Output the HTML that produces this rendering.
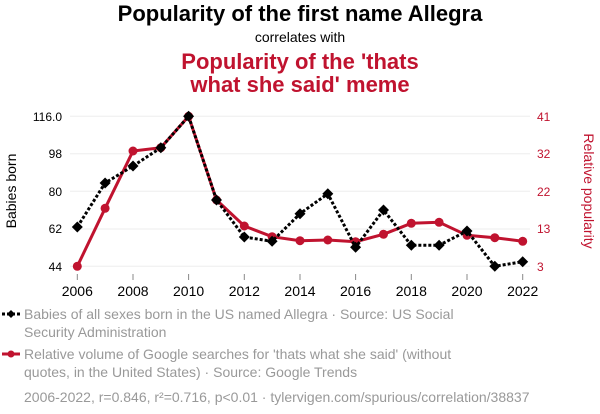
<!DOCTYPE html>
<html><head><meta charset="utf-8"><style>
html,body{margin:0;padding:0;background:#fff;}
svg{display:block;font-family:"Liberation Sans",sans-serif;}
</style></head><body>
<svg width="600" height="414" viewBox="0 0 600 414">
<text x="300" y="21" text-anchor="middle" font-size="22" font-weight="bold" fill="#000">Popularity of the first name Allegra</text>
<text x="300" y="42" text-anchor="middle" font-size="14" fill="#000">correlates with</text>
<text x="300" y="69" text-anchor="middle" font-size="22" font-weight="bold" fill="#c0132f">Popularity of the 'thats</text>
<text x="300" y="92" text-anchor="middle" font-size="22" font-weight="bold" fill="#c0132f">what she said' meme</text>
<g stroke="#eee" stroke-width="1">
<line x1="70" x2="530" y1="116.3" y2="116.3"/><line x1="70" x2="530" y1="153.7" y2="153.7"/>
<line x1="70" x2="530" y1="191.3" y2="191.3"/><line x1="70" x2="530" y1="229" y2="229"/>
<line x1="70" x2="530" y1="266.3" y2="266.3"/>
</g>
<g font-size="12" fill="#000" text-anchor="end">
<text x="62" y="121">116.0</text><text x="62" y="158">98</text><text x="62" y="196">80</text><text x="62" y="233">62</text><text x="62" y="271">44</text>
</g>
<g font-size="12" fill="#c0132f" text-anchor="start">
<text x="537" y="121">41</text><text x="537" y="158">32</text><text x="537" y="196">22</text><text x="537" y="233">13</text><text x="537" y="271">3</text>
</g>
<text transform="translate(16,191) rotate(-90)" text-anchor="middle" font-size="14" fill="#000">Babies born</text>
<text transform="translate(584,191) rotate(90)" text-anchor="middle" font-size="14" fill="#c0132f">Relative popularity</text>
<g stroke="#888" stroke-width="1">
<line x1="77.3" x2="77.3" y1="274" y2="280"/><line x1="133" x2="133" y1="274" y2="280"/><line x1="188.6" x2="188.6" y1="274" y2="280"/><line x1="244.3" x2="244.3" y1="274" y2="280"/><line x1="300" x2="300" y1="274" y2="280"/><line x1="355.6" x2="355.6" y1="274" y2="280"/><line x1="411.3" x2="411.3" y1="274" y2="280"/><line x1="467" x2="467" y1="274" y2="280"/><line x1="522.7" x2="522.7" y1="274" y2="280"/>
</g>
<g font-size="14" fill="#000" text-anchor="middle">
<text x="77.3" y="296">2006</text><text x="133" y="296">2008</text><text x="188.6" y="296">2010</text><text x="244.3" y="296">2012</text><text x="300" y="296">2014</text><text x="355.6" y="296">2016</text><text x="411.3" y="296">2018</text><text x="467" y="296">2020</text><text x="522.7" y="296">2022</text>
</g>
<polyline fill="none" stroke="#c0132f" stroke-width="3" points="77.3,266.3 105.1,208.3 133,151 160.8,147.7 188.6,116.3 216.5,200 244.3,226 272.1,236.7 300,240.7 327.8,240 355.6,241.7 383.5,234.3 411.3,223.3 439.1,222.3 467,235.3 494.8,237.7 522.7,241.3"/>
<g fill="#c0132f">
<circle cx="77.3" cy="266.3" r="4.5"/><circle cx="105.1" cy="208.3" r="4.5"/><circle cx="133" cy="151" r="4.5"/><circle cx="160.8" cy="147.7" r="4.5"/><circle cx="188.6" cy="116.3" r="4.5"/><circle cx="216.5" cy="200" r="4.5"/><circle cx="244.3" cy="226" r="4.5"/><circle cx="272.1" cy="236.7" r="4.5"/><circle cx="300" cy="240.7" r="4.5"/><circle cx="327.8" cy="240" r="4.5"/><circle cx="355.6" cy="241.7" r="4.5"/><circle cx="383.5" cy="234.3" r="4.5"/><circle cx="411.3" cy="223.3" r="4.5"/><circle cx="439.1" cy="222.3" r="4.5"/><circle cx="467" cy="235.3" r="4.5"/><circle cx="494.8" cy="237.7" r="4.5"/><circle cx="522.7" cy="241.3" r="4.5"/>
</g>
<polyline fill="none" stroke="#000" stroke-width="3" stroke-dasharray="3,2" points="77.3,227 105.1,183 133,166 160.8,147.7 188.6,116.3 216.5,200 244.3,237 272.1,241.3 300,213.7 327.8,193.7 355.6,247.3 383.5,210 411.3,245.3 439.1,245.3 467,231 494.8,266.3 522.7,261.7"/>
<g fill="#000">
<path d="M77.3,221.5l5.5,5.5l-5.5,5.5l-5.5,-5.5z"/><path d="M105.1,177.5l5.5,5.5l-5.5,5.5l-5.5,-5.5z"/><path d="M133,160.5l5.5,5.5l-5.5,5.5l-5.5,-5.5z"/><path d="M160.8,142.2l5.5,5.5l-5.5,5.5l-5.5,-5.5z"/><path d="M188.6,110.8l5.5,5.5l-5.5,5.5l-5.5,-5.5z"/><path d="M216.5,194.5l5.5,5.5l-5.5,5.5l-5.5,-5.5z"/><path d="M244.3,231.5l5.5,5.5l-5.5,5.5l-5.5,-5.5z"/><path d="M272.1,235.8l5.5,5.5l-5.5,5.5l-5.5,-5.5z"/><path d="M300,208.2l5.5,5.5l-5.5,5.5l-5.5,-5.5z"/><path d="M327.8,188.2l5.5,5.5l-5.5,5.5l-5.5,-5.5z"/><path d="M355.6,241.8l5.5,5.5l-5.5,5.5l-5.5,-5.5z"/><path d="M383.5,204.5l5.5,5.5l-5.5,5.5l-5.5,-5.5z"/><path d="M411.3,239.8l5.5,5.5l-5.5,5.5l-5.5,-5.5z"/><path d="M439.1,239.8l5.5,5.5l-5.5,5.5l-5.5,-5.5z"/><path d="M467,225.5l5.5,5.5l-5.5,5.5l-5.5,-5.5z"/><path d="M494.8,260.8l5.5,5.5l-5.5,5.5l-5.5,-5.5z"/><path d="M522.7,256.2l5.5,5.5l-5.5,5.5l-5.5,-5.5z"/>
</g>
<line x1="2" x2="20" y1="314" y2="314" stroke="#000" stroke-width="3" stroke-dasharray="3,2"/>
<path d="M11,310l4,4l-4,4l-4,-4z" fill="#000"/>
<text x="24" y="319" font-size="14" fill="#999">Babies of all sexes born in the US named Allegra · Source: US Social</text>
<text x="24" y="337" font-size="14" fill="#999">Security Administration</text>
<line x1="2" x2="20" y1="354" y2="354" stroke="#c0132f" stroke-width="3"/>
<circle cx="11" cy="354" r="3.5" fill="#c0132f"/>
<text x="24" y="359" font-size="14" fill="#999">Relative volume of Google searches for 'thats what she said' (without</text>
<text x="24" y="377" font-size="14" fill="#999">quotes, in the United States) · Source: Google Trends</text>
<text x="24" y="402" font-size="14" fill="#999">2006-2022, r=0.846, r²=0.716, p&lt;0.01 · tylervigen.com/spurious/correlation/38837</text>
</svg>
</body></html>
